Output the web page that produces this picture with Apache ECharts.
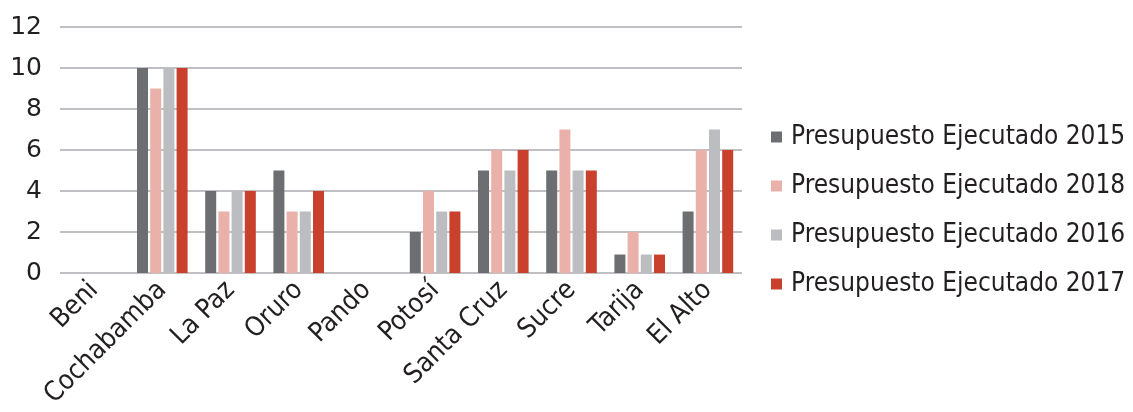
<!DOCTYPE html>
<html>
<head>
<meta charset="utf-8">
<script src="https://cdn.jsdelivr.net/npm/echarts@6/dist/echarts.min.js"></script>
<style>
html,body{margin:0;padding:0;background:#fff;}
#c{width:1133px;height:412px;}
</style>
</head>
<body>
<div id="c"></div>
<script>
const categories = ['Beni','Cochabamba','La Paz','Oruro','Pando','Potosí','Santa Cruz','Sucre','Tarija','El Alto'];
const seriesNames = ['Presupuesto Ejecutado 2015','Presupuesto Ejecutado 2018','Presupuesto Ejecutado 2016','Presupuesto Ejecutado 2017'];
const v2015 = [0,10,4,5,0,2,5,5,0.9,3];
const v2018 = [0,9,3,3,0,4,6,7,2,6];
const v2016 = [0,10,4,3,0,3,5,5,0.9,7];
const v2017 = [0,10,4,4,0,3,6,5,0.9,6];
const yTicks = [0,2,4,6,8,10,12];
const colors = ['#6d6e72','#e9b1aa','#bcbdc1','#c9402d'];

const FONT_C = '"DejaVu Sans Condensed","DejaVu Sans",sans-serif';
const FONT = '"DejaVu Sans",sans-serif';
const chart = echarts.init(document.getElementById('c'));
const dataSets = [v2015, v2018, v2016, v2017];
chart.setOption({
  animation:false,
  color: colors,
  textStyle:{fontFamily:FONT},
  grid:{left:60,right:391,top:27,bottom:139,containLabel:false},
  legend:{
    orient:'vertical', left:766, top:117,
    icon:'rect', itemWidth:11, itemHeight:11, itemGap:19,
    textStyle:{fontFamily:FONT_C,fontSize:26,color:'#231f20',lineHeight:30,padding:[0,0,0,4]},
    data: seriesNames
  },
  xAxis:{
    type:'category', data:categories,
    axisLine:{show:false}, axisTick:{show:false},
    axisLabel:{rotate:45,fontSize:27,color:'#231f20',fontFamily:FONT_C,margin:13,interval:0}
  },
  yAxis:{
    type:'value', min:0, max:12, interval:2,
    axisLine:{show:false}, axisTick:{show:false},
    axisLabel:{fontSize:25,color:'#231f20',fontFamily:FONT,margin:18,
      formatter:(v)=>yTicks.includes(v)?String(v):''},
    splitLine:{lineStyle:{color:'#c0c0c4',width:2}}
  },
  series: seriesNames.map((n,i)=>({
    name:n, type:'bar', data:dataSets[i],
    barWidth:11, barGap:'20%'
  }))
});
</script>
</body>
</html>
